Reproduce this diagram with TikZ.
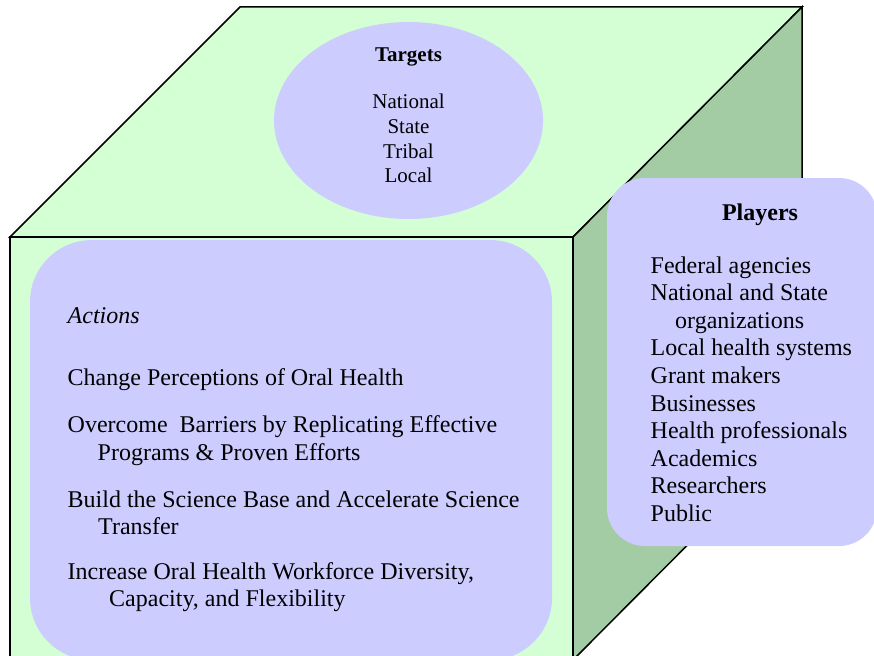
\documentclass[tikz,border=0pt]{standalone}
\usepackage{fontspec}
\setmainfont{Liberation Serif}
\usepackage{tikz}
\usetikzlibrary{shapes.geometric}

\definecolor{topgreen}{HTML}{D4FFD4}
\definecolor{sidegreen}{HTML}{A4CCA4}
\definecolor{lilac}{HTML}{CCCCFF}

\tikzset{
	face/.style={draw=black, line width=1.5pt, line join=miter},
	panel/.style={fill=lilac, draw=none, inner sep=0pt},
	big/.style={anchor=base west, inner sep=0pt, font=\fontsize{24}{27.6}\selectfont},
	small/.style={anchor=base, inner sep=0pt, font=\fontsize{21}{24}\selectfont}
}

\begin{document}
\begin{tikzpicture}[x=1pt,y=-1pt]
	\clip (0,0) rectangle (874,655);
	\useasboundingbox (0,0) rectangle (874,655);

	% corners of the cube
	\coordinate (ftl) at (10,237);
	\coordinate (ftr) at (573,237);
	\coordinate (fbr) at (573,660);
	\coordinate (fbl) at (10,660);
	\coordinate (btl) at (240,7);
	\coordinate (btr) at (802,7);
	\coordinate (bbr) at (802,430);

	\filldraw[face, fill=topgreen] (ftl) -- (btl) -- (btr) -- (ftr) -- cycle;
	\filldraw[face, fill=sidegreen] (ftr) -- (btr) -- (bbr) -- (fbr) -- cycle;
	\filldraw[face, fill=topgreen] (ftl) -- (ftr) -- (fbr) -- (fbl) -- cycle;

	% panels
	\node[panel, ellipse, minimum width=269pt, minimum height=197pt] (targets) at (408.5,120.5) {};
	\node[panel, rectangle, rounded corners=62pt, minimum width=522pt, minimum height=420pt] (actions) at (291,450) {};
	\node[panel, rectangle, rounded corners=38pt, minimum width=270pt, minimum height=368pt] (players) at (742,362) {};

	% targets
	\node[small] (tg) at (408.5,62) {\textbf{Targets}};
	\node[small] (tg1) at (408.5,109) {National};
	\node[small] (tg2) at (408.5,133.5) {State};
	\node[small] (tg3) at (408.5,158) {Tribal};
	\node[small] (tg4) at (408.5,182.5) {Local};

	% actions
	\node[big] (ac) at (67.5,323) {\textit{Actions}};
	\node[big] (ac1) at (67.5,385) {Change Perceptions of Oral Health};
	\node[big] (ac2) at (67.5,432) {Overcome\ \ Barriers by Replicating Effective};
	\node[big] (ac2b) at (97.5,460) {Programs \& Proven Efforts};
	\node[big] (ac3) at (67.5,507) {Build the Science Base and Accelerate Science};
	\node[big] (ac3b) at (98,534) {Transfer};
	\node[big] (ac4) at (67.5,579) {Increase Oral Health Workforce Diversity,};
	\node[big] (ac4b) at (109,606) {Capacity, and Flexibility};

	% players
	\node[big, anchor=base] (pl) at (760,220) {\textbf{Players}};
	\node[big] (pl1) at (650.5,273) {Federal agencies};
	\node[big] (pl2) at (650.5,300.6) {National and State};
	\node[big] (pl2b) at (675,328.2) {organizations};
	\node[big] (pl3) at (650.5,355.8) {Local health systems};
	\node[big] (pl4) at (650.5,383.4) {Grant makers};
	\node[big] (pl5) at (650.5,411) {Businesses};
	\node[big] (pl6) at (650.5,438.6) {Health professionals};
	\node[big] (pl7) at (650.5,466.2) {Academics};
	\node[big] (pl8) at (650.5,493.8) {Researchers};
	\node[big] (pl9) at (650.5,521.4) {Public};
\end{tikzpicture}
\end{document}
